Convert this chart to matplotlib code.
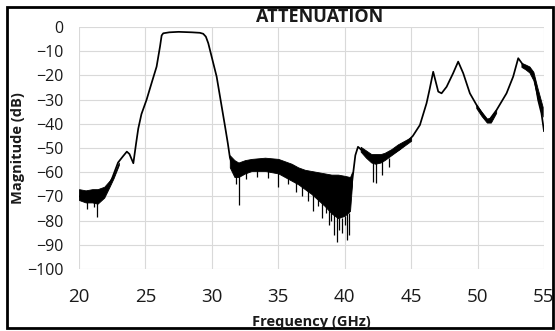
#!/usr/bin/env python3
"""Attenuation sweep (20-55 GHz) redrawn in an Excel-like style."""

import matplotlib
matplotlib.use("Agg")
import matplotlib.pyplot as plt
import matplotlib.patches as mpatches

# ── Palette ──────────────────────────────────────────────────────────────────
INK   = "#000000"
GRID  = "#d9d9d9"
TEXT  = "#1a1a1a"

plt.rcParams["font.family"] = ["Open Sans", "DejaVu Sans"]

# ── Data ─────────────────────────────────────────────────────────────────────
freq = [20.0, 21.4, 21.9, 22.46, 22.94, 23.3, 23.6, 23.8, 24.09, 24.3, 24.46,
        24.7, 25.09, 25.5, 25.84, 26.1, 26.22, 26.34, 26.8, 27.5, 28.5, 29.1,
        29.35, 29.55, 29.73, 30.36, 30.99, 31.2, 31.36, 31.6, 32.0, 33.0,
        34.0, 35.0, 36.0, 37.0, 38.0, 39.0, 40.0, 40.45, 40.6, 40.8, 41.0,
        41.3, 41.7, 42.1, 42.5, 43.15, 43.7, 44.15, 44.6, 45.13, 45.66,
        46.16, 46.4, 46.66, 47.04, 47.29, 47.67, 48.16, 48.54, 48.92, 49.42,
        49.92, 50.3, 50.68, 50.8, 51.43, 52.18, 52.68, 53.06, 53.43, 53.93,
        54.31, 54.56, 54.81, 55.0]
mag = [-70.0, -70.5, -69.0, -63.0, -56.0, -53.5, -51.5, -52.5, -56.3, -48.0,
       -42.0, -36.0, -30.0, -22.5, -16.4, -8.0, -3.5, -2.6, -2.2, -2.0, -2.2,
       -2.4, -2.8, -4.0, -6.7, -20.5, -41.0, -48.0, -54.0, -58.0, -59.0,
       -57.0, -56.5, -57.5, -60.0, -63.0, -66.0, -69.0, -70.0, -69.0, -62.0,
       -53.0, -49.5, -51.0, -53.0, -54.5, -54.5, -53.6, -52.0, -50.5, -48.0,
       -45.0, -40.5, -31.5, -25.5, -18.5, -26.7, -27.4, -24.7, -19.1, -14.3,
       -19.1, -27.4, -32.2, -35.5, -38.4, -39.0, -34.3, -27.4, -20.5, -12.9,
       -15.7, -17.1, -21.9, -30.2, -35.7, -43.0]

# noisy stretches, drawn as a filled envelope
noise_f  = [[20.0, 20.5, 21.0, 21.4, 21.9, 22.3, 22.6, 23.0],
            [31.35, 31.7, 32.0, 32.5, 33.0, 34.0, 35.0, 35.5, 36.0, 36.5,
             37.0, 37.5, 38.0, 38.5, 39.0, 39.5, 40.0, 40.4, 40.55],
            [41.2, 41.6, 42.0, 42.3, 42.7, 43.0, 43.5, 44.0, 44.5, 45.0],
            [49.9, 50.3, 50.7, 51.0, 51.4],
            [53.3, 53.6, 53.9, 54.2, 54.5, 54.9]]
noise_hi = [[-67.0, -67.5, -67.0, -67.0, -66.0, -63.5, -61.0, -56.0],
            [-53.0, -55.0, -56.0, -55.0, -54.5, -54.0, -54.5, -55.5, -56.5,
             -58.0, -59.0, -59.5, -60.0, -60.5, -61.0, -61.0, -61.5, -62.0,
             -60.0],
            [-49.5, -51.0, -52.5, -52.5, -52.5, -52.0, -50.5, -48.5, -47.0,
             -45.5],
            [-32.0, -35.0, -37.8, -37.5, -34.0],
            [-14.8, -15.5, -16.3, -18.5, -25.0, -33.0]]
noise_lo = [[-71.5, -72.5, -72.5, -73.0, -70.5, -66.0, -62.5, -57.0],
            [-58.0, -62.0, -62.0, -60.5, -59.5, -59.5, -60.5, -62.0, -63.5,
             -65.0, -67.0, -69.0, -71.5, -74.0, -77.0, -79.0, -78.0, -76.0,
             -65.0],
            [-51.5, -54.0, -56.0, -56.5, -56.0, -55.0, -53.0, -51.0, -49.0,
             -47.0],
            [-33.5, -36.8, -39.5, -39.5, -35.5],
            [-16.5, -17.5, -18.8, -22.0, -29.0, -37.0]]

# isolated downward spikes
spike_f   = [20.6, 21.1, 21.35, 31.8, 32.05, 32.6, 33.4, 34.2, 35.0, 35.7,
             36.3, 36.8, 37.2, 37.6, 38.0, 38.3, 38.6, 38.8, 39.0, 39.2,
             39.4, 39.6, 39.8, 40.0, 40.2, 40.3, 42.15, 42.35, 42.8, 43.3]
spike_top = [-72.0, -72.0, -72.0, -61.0, -61.0, -60.0, -59.0, -59.0, -60.0,
             -61.0, -63.0, -65.0, -67.0, -68.0, -70.0, -72.0, -73.0, -75.0,
             -76.0, -77.0, -78.0, -79.0, -79.0, -78.0, -77.0, -77.0, -55.0,
             -56.0, -55.0, -54.0]
spike_bot = [-75.0, -74.5, -78.5, -65.0, -73.5, -63.0, -62.0, -62.5, -66.0,
             -65.0, -68.0, -70.0, -72.0, -76.0, -74.0, -79.0, -77.0, -82.0,
             -80.0, -86.0, -89.0, -84.0, -85.0, -82.0, -88.0, -86.0, -64.0,
             -64.5, -61.0, -58.0]

x_ticks = [20, 25, 30, 35, 40, 45, 50, 55]
y_ticks = [0, -10, -20, -30, -40, -50, -60, -70, -80, -90, -100]


# ── Figure ───────────────────────────────────────────────────────────────────
fig = plt.figure(figsize=(5.55, 3.31), dpi=100)
ax = fig.add_axes([79 / 555, 1 - 269 / 331, 465 / 555, 242 / 331])

ax.plot(freq, mag, color=INK, linewidth=1.25, zorder=3)
for f, hi, lo in zip(noise_f, noise_hi, noise_lo):
    ax.fill_between(f, lo, hi, color=INK, linewidth=0.6, zorder=3)
ax.vlines(spike_f, spike_bot, spike_top, color=INK, linewidth=0.9, zorder=3)

ax.set_xlim(20, 55)
ax.set_ylim(-100, 0)
ax.set_xticks(x_ticks)
ax.set_yticks(y_ticks)
ax.tick_params(axis="x", length=0, pad=14, labelsize=13.5, labelcolor=TEXT)
ax.tick_params(axis="y", length=0, pad=11, labelsize=11.5, labelcolor=TEXT)
ax.grid(True, color=GRID, linewidth=0.8, zorder=0)
ax.set_axisbelow(True)
for s in ax.spines.values():
    s.set_visible(False)

# ── Labels & frame ───────────────────────────────────────────────────────────
fig.text(311 / 555, 1 - 322 / 331, "Frequency (GHz)", ha="center",
         va="center", fontsize=10.5, fontweight="bold", color=TEXT)
fig.text(18 / 555, 1 - 148 / 331, "Magnitude (dB)", ha="center",
         va="center", rotation=90, fontsize=10.5, fontweight="bold",
         color=TEXT)

fig.text(320 / 555, 1 - 17 / 331, "ATTENUATION", ha="center", va="center",
         fontsize=13, fontweight="bold", color=TEXT)

frame = mpatches.Rectangle((7 / 555, 3 / 331), 546 / 555, 321 / 331,
                           transform=fig.transFigure, fill=False,
                           edgecolor=INK, linewidth=2.0)
fig.patches.append(frame)

fig.savefig("out.png", dpi=100, facecolor="white")
